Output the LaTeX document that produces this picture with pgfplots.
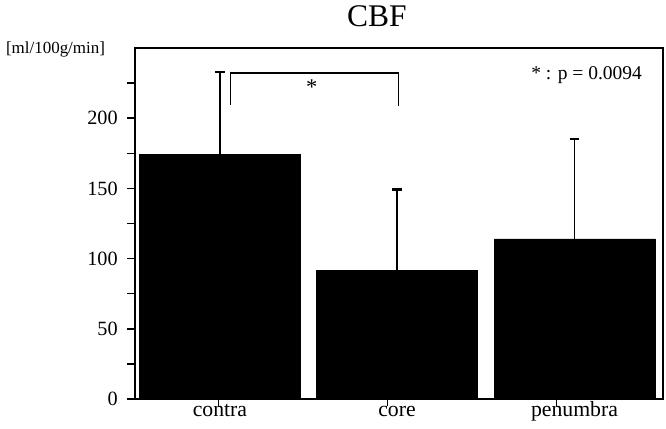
\documentclass[border=0pt]{standalone}
\usepackage{fontspec}
\setmainfont{Liberation Serif}
\usepackage{pgfplots}
\pgfplotsset{compat=1.18}
\begin{document}
\begin{tikzpicture}
\begin{axis}[
  scale only axis,
  width=352pt, height=234pt,
  xmin=-0.492, xmax=2.628,
  ymin=0, ymax=250,
  axis line style={line width=1.1pt},
  tick style={line width=1pt, black},
  tick align=outside,
  major tick length=5pt,
  minor tick length=5pt,
  xtick pos=bottom, ytick pos=left,
  xtick={0,1,2}, xticklabels={},
  extra x ticks={0.01,1.056,2.105},
  extra x tick labels={contra,core,penumbra},
  extra x tick style={major tick length=0pt, xticklabel style={font=\fontsize{14.5}{16}\selectfont, anchor=base, yshift=-11.5pt}},
  ytick={0,50,100,150,200},
  minor ytick={25,75,125,175,225},
  yticklabel style={font=\fontsize{13.5}{15}\selectfont, xshift=-3pt},
  /pgf/number format/assume math mode=true,
  title={CBF},
  title style={at={(axis description cs:0.458,1)}, anchor=base, yshift=8pt, font=\fontsize{21}{24}\selectfont},
  clip=false,
]
\addplot[ybar, bar width=0.95, bar shift=0pt, fill=black, draw=black,
  error bars/.cd, y dir=plus, y explicit,
  error bar style={line width=1.3pt, black},
  error mark options={rotate=90, mark size=3.3pt, line width=1.5pt, black}]
  coordinates {
  (0.01,174) +- (0,59)
  (1.056,91.6) +- (0,57.7)
  (2.105,114) +- (0,71)
  };
\addplot[black, line width=1.1pt, mark=none] coordinates {
  (0.073,209.4) (0.073,232.4) (1.066,232.4) (1.066,208.7)
};
\node[font=\fontsize{15}{16}\selectfont] at (axis cs:0.552,222) {*};
\node[anchor=east, font=\fontsize{13}{14}\selectfont] at (axis cs:2.535,231) {* : p = 0.0094};
\node[anchor=base east, font=\fontsize{11.3}{12}\selectfont] at (rel axis cs:0,1) [xshift=-16.5pt, yshift=-4pt] {[ml/100g/min]};
\end{axis}
\pgfresetboundingbox
\path ([xshift=-90pt,yshift=-19.8pt]current axis.south west) rectangle ([xshift=2pt,yshift=32pt]current axis.north east);
\end{tikzpicture}
\end{document}
